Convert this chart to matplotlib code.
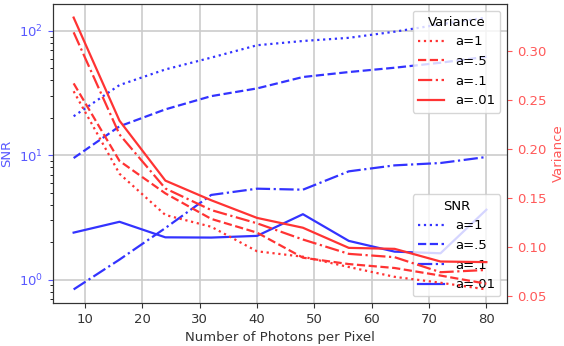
import matplotlib
matplotlib.use("Agg")
import matplotlib.pyplot as plt

photons = [8, 16, 24, 32, 40, 48, 56, 64, 72, 80]
labels = ["a=1", "a=.5", "a=.1", "a=.01"]

snr_a1 = [20.6, 36.7, 49, 61, 76.7, 83, 88, 98.6, 113, 128]
snr_a05 = [9.5, 17.1, 23.4, 29.9, 34.5, 42.6, 46.7, 50.6, 55.5, 62]
snr_a01 = [0.835, 1.45, 2.6, 4.8, 5.39, 5.29, 7.43, 8.3, 8.67, 9.69]
snr_a001 = [2.39, 2.92, 2.19, 2.18, 2.25, 3.36, 2.05, 1.68, 1.63, 3.65]

var_a1 = [0.259, 0.175, 0.133, 0.121, 0.096, 0.0905, 0.080, 0.070, 0.064, 0.0572]
var_a05 = [0.267, 0.188, 0.155, 0.129, 0.115, 0.0895, 0.083, 0.079, 0.0713, 0.063]
var_a01 = [0.319, 0.215, 0.160, 0.138, 0.1245, 0.108, 0.0934, 0.090, 0.0747, 0.077]
var_a001 = [0.334, 0.229, 0.168, 0.148, 0.130, 0.120, 0.0995, 0.0985, 0.0856, 0.085]

styles = [":", "--", "-.", "-"]

fs = 9.5
plt.rcParams["font.size"] = fs

fig = plt.figure(figsize=(5.64, 3.46), dpi=100)
ax = fig.add_axes([53 / 564, 43 / 346, 454 / 564, 299 / 346])
ax2 = ax.twinx()

blue = (0.2, 0.2, 1.0)
red = (1.0, 0.2, 0.2)
for vals, ls, lab in zip([snr_a1, snr_a05, snr_a01, snr_a001], styles, labels):
    ax.plot(photons, vals, linestyle=ls, color=blue, lw=1.6, label=lab)
for vals, ls, lab in zip([var_a1, var_a05, var_a01, var_a001], styles, labels):
    ax2.plot(photons, vals, linestyle=ls, color=red, lw=1.6, label=lab)

ax.set_yscale("log")
ax.grid(True, color="#cccccc", lw=1.2)
ax.set_axisbelow(True)

ax.set_xlabel("Number of Photons per Pixel", fontsize=fs, color="#333333")
ax.set_ylabel("SNR", color=(0.35, 0.35, 1.0), fontsize=fs)
ax2.set_ylabel("Variance", color=(1.0, 0.35, 0.35), fontsize=fs)

ax.tick_params(axis="y", which="major", colors=(0.35, 0.35, 1.0), labelsize=fs)
ax.tick_params(axis="x", labelsize=fs, colors="#333333")
ax2.tick_params(axis="y", colors=(1.0, 0.35, 0.35), labelsize=fs)
ax.set_xticks([10, 20, 30, 40, 50, 60, 70, 80])

for sp in ax.spines.values():
    sp.set_color("#333333")
for sp in ax2.spines.values():
    sp.set_color("#333333")

ax.legend(title="SNR", loc="lower right", fontsize=fs, title_fontsize=fs)
ax2.legend(title="Variance", loc="upper right", fontsize=fs, title_fontsize=fs)

fig.savefig("out.png", dpi=100)
